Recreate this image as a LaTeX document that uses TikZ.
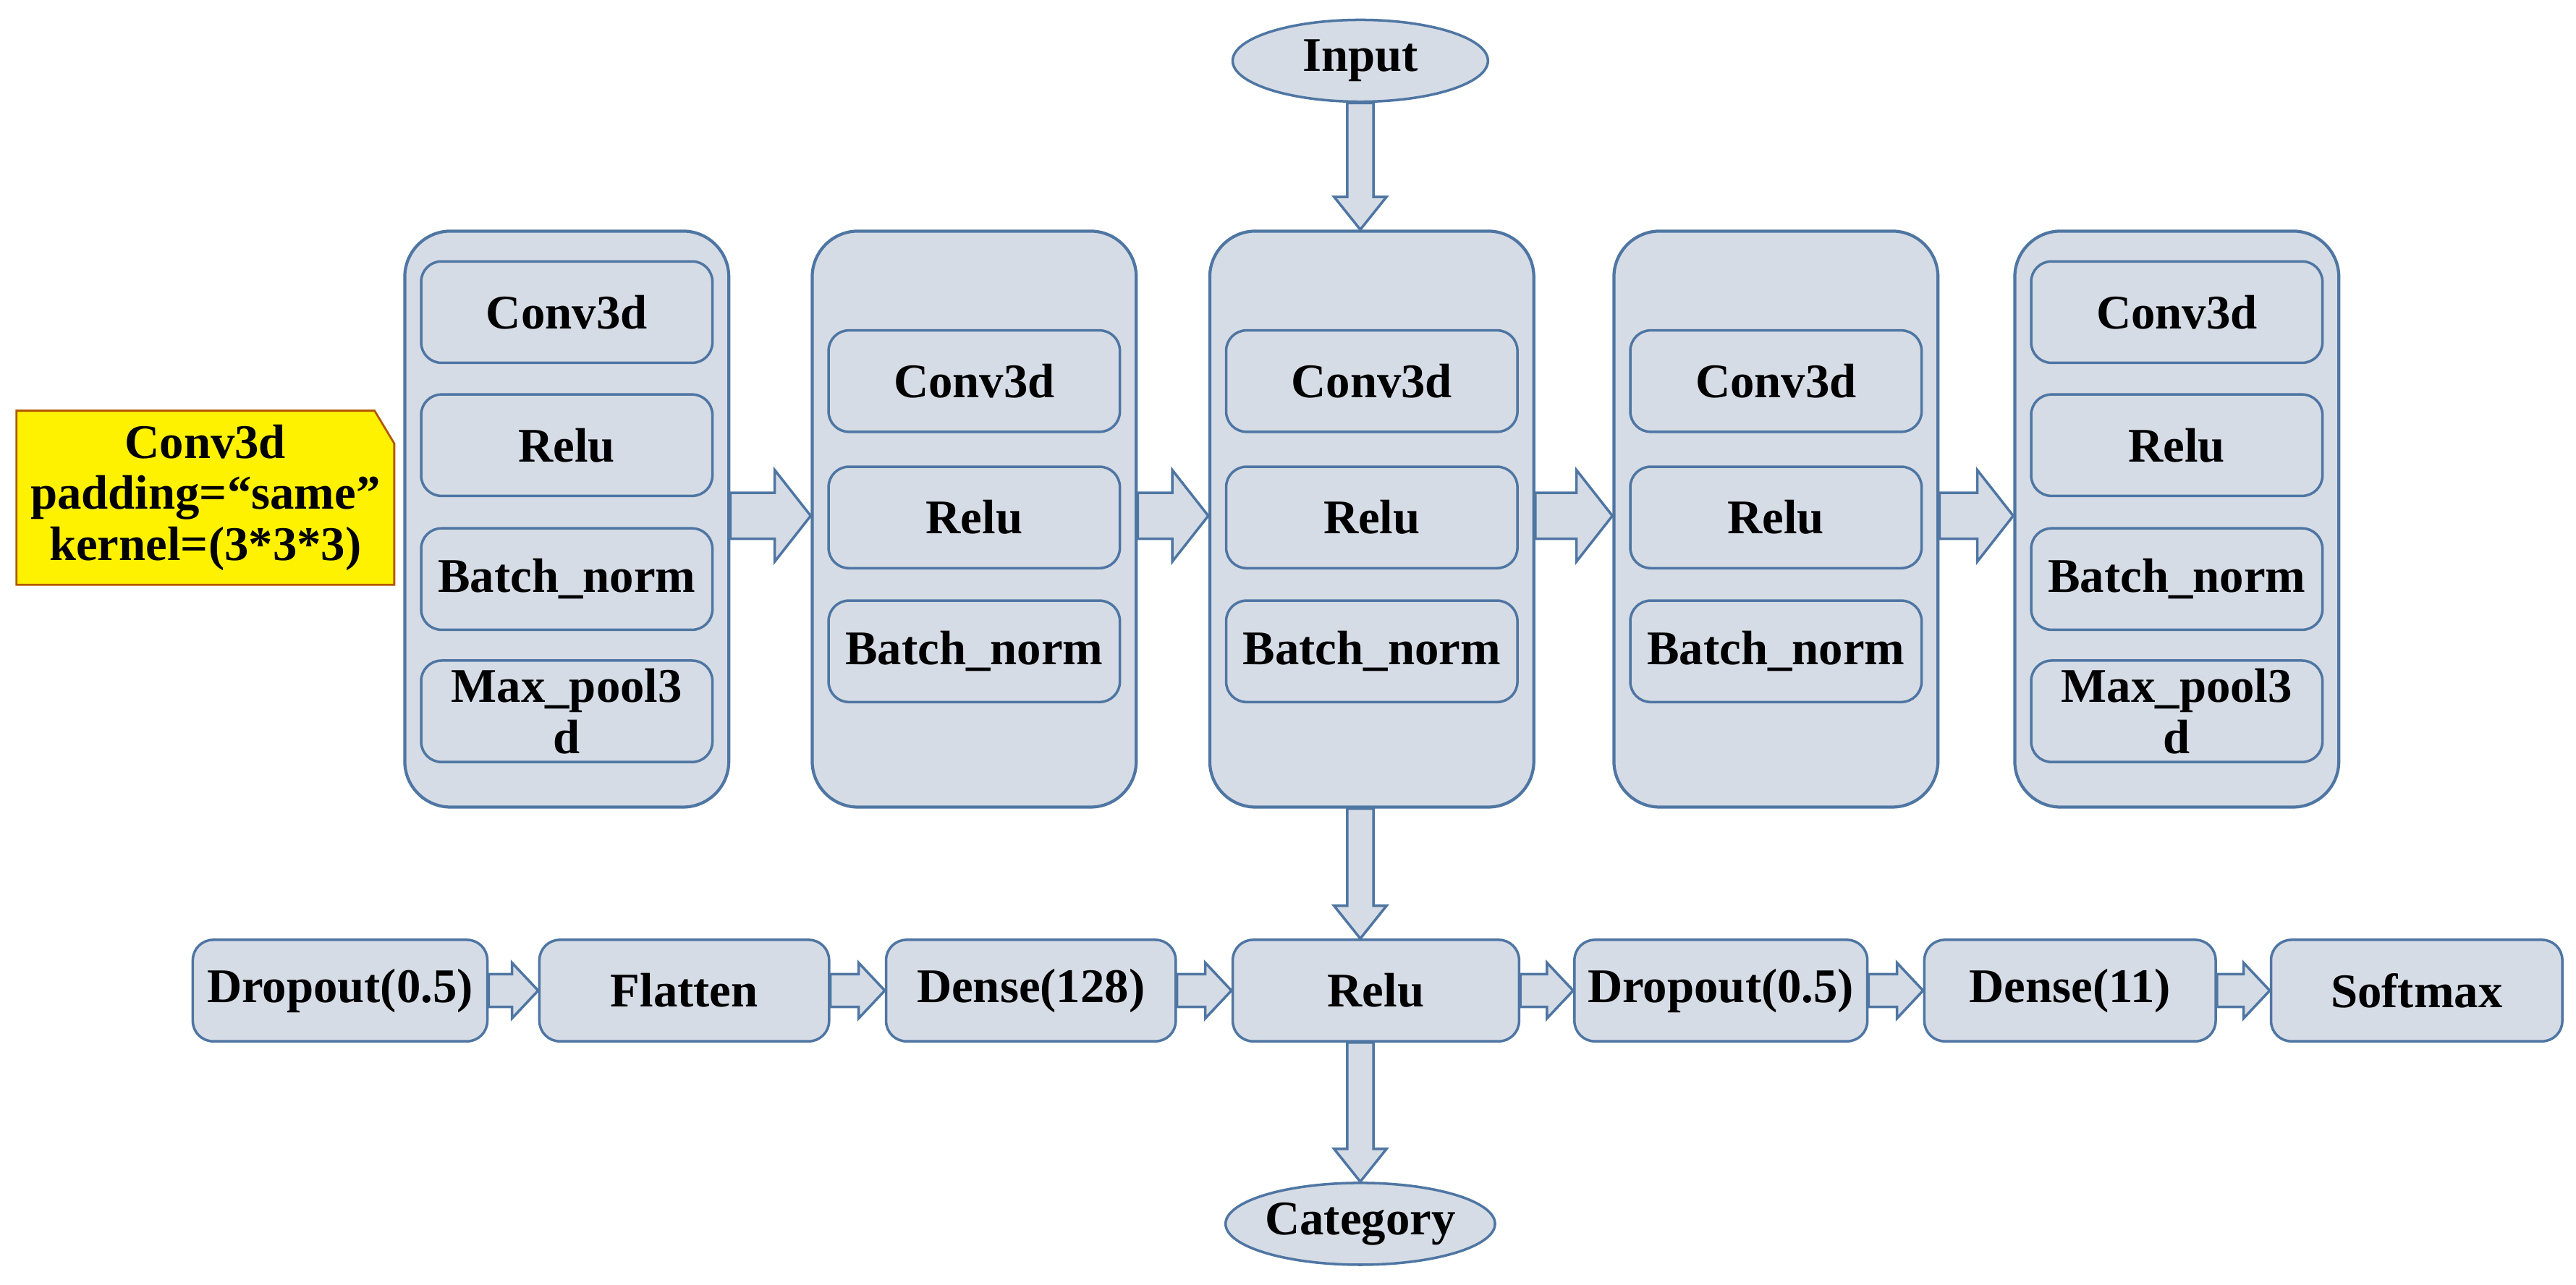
\documentclass[tikz,border=0pt]{standalone}
\usepackage{fontspec}
\setmainfont{Liberation Serif}
\usetikzlibrary{shapes.geometric,calc}
\definecolor{bfill}{HTML}{D6DCE5}
\definecolor{bdraw}{HTML}{4F76A3}
\def\u{0.6435pt}
\tikzset{
 every node/.style={font=\fontsize{19}{20}\selectfont\bfseries, align=center, inner sep=0pt},
 big/.style={draw=bdraw, fill=bfill, line width=1.2pt, rounded corners=18pt, minimum width=198*\u, minimum height=352*\u},
 inner/.style={draw=bdraw, fill=bfill, line width=1pt, rounded corners=8pt, minimum width=178*\u, minimum height=62*\u},
 ell/.style={draw=bdraw, fill=bfill, line width=1pt, ellipse, minimum width=156*\u, minimum height=50*\u},
 ba/.style={draw=bdraw, fill=bfill, line width=1pt, line join=miter},
}
\newcommand\harr[5]{% from,to,shaft,head,headlen
 \draw[ba] let \p1=(#1), \p2=(#2) in
 (\x1,{\y1+#3*\u}) -- ({\x2-#5*\u},{\y1+#3*\u}) -- ({\x2-#5*\u},{\y1+#4*\u}) -- (\x2,\y1)
 -- ({\x2-#5*\u},{\y1-#4*\u}) -- ({\x2-#5*\u},{\y1-#3*\u}) -- (\x1,{\y1-#3*\u}) -- cycle;}
\newcommand\varr[2]{% from,to downward
 \draw[ba] let \p1=(#1), \p2=(#2) in
 ({\x1-8*\u},\y1) -- ({\x1-8*\u},{\y2+20*\u}) -- ({\x1-16*\u},{\y2+20*\u}) -- (\x1,\y2)
 -- ({\x1+16*\u},{\y2+20*\u}) -- ({\x1+8*\u},{\y2+20*\u}) -- ({\x1+8*\u},\y1) -- cycle;}
\begin{document}
\begin{tikzpicture}[x=0.0227cm,y=-0.0227cm]
\fill[white] (0,0) rectangle (1568,782);
\useasboundingbox (0,0) rectangle (1568,782);
% note
\draw[fill=yellow, draw=orange!70!black, line width=0.8pt] (10,250) -- (228,250) -- (240,270) -- (240,356) -- (10,356) -- cycle;
\node (note) at (125,303) {Conv3d\\padding=“same”\\kernel=(3*3*3)};
% big boxes
\foreach \n/\x in {b1/345,b2/593,b3/835,b4/1081,b5/1325} \node[big] (\n) at (\x,316) {};
\foreach \b/\x in {1/345,5/1325}{
 \node[inner] (c\b) at (\x,190) {Conv3d};
 \node[inner] (r\b) at (\x,271) {Relu};
 \node[inner] (n\b) at (\x,352.5) {Batch\_norm};
 \node[inner] (m\b) at (\x,433) {Max\_pool3\\d};}
\foreach \b/\x in {2/593,3/835,4/1081}{
 \node[inner] (c\b) at (\x,232) {Conv3d};
 \node[inner] (r\b) at (\x,315) {Relu};
 \node[inner] (n\b) at (\x,396.5) {Batch\_norm};}
\node[ell] (in) at (828,37) {Input};
\node[ell] (cat) at (828,745) {Category};
% bottom row
\node[inner, minimum width=180*\u] (d1) at (207,603) {Dropout(0.5)};
\node[inner, minimum width=177*\u] (fl) at (416.5,603) {Flatten};
\node[inner, minimum width=177*\u] (de) at (627.5,603) {Dense(128)};
\node[inner, minimum width=175*\u] (re) at (837.5,603) {Relu};
\node[inner, minimum width=179*\u] (d2) at (1047.5,603) {Dropout(0.5)};
\node[inner, minimum width=178*\u] (d11) at (1260,603) {Dense(11)};
\node[inner, minimum width=178*\u] (sm) at (1471,603) {Softmax};
% arrows
\harr{b1.east |- 0,314}{b2.west |- 0,314}{14}{28}{22}
\harr{b2.east |- 0,314}{b3.west |- 0,314}{14}{28}{22}
\harr{b3.east |- 0,314}{b4.west |- 0,314}{14}{28}{22}
\harr{b4.east |- 0,314}{b5.west |- 0,314}{14}{28}{22}
\foreach \a/\b in {d1/fl,fl/de,de/re,re/d2,d2/d11,d11/sm}{\harr{\a.east}{\b.west}{10}{17}{16}}
\varr{in.south}{in.south |- b3.north}
\varr{in.south |- b3.south}{in.south |- re.north}
\varr{in.south |- re.south}{cat.north}
\end{tikzpicture}
\end{document}
